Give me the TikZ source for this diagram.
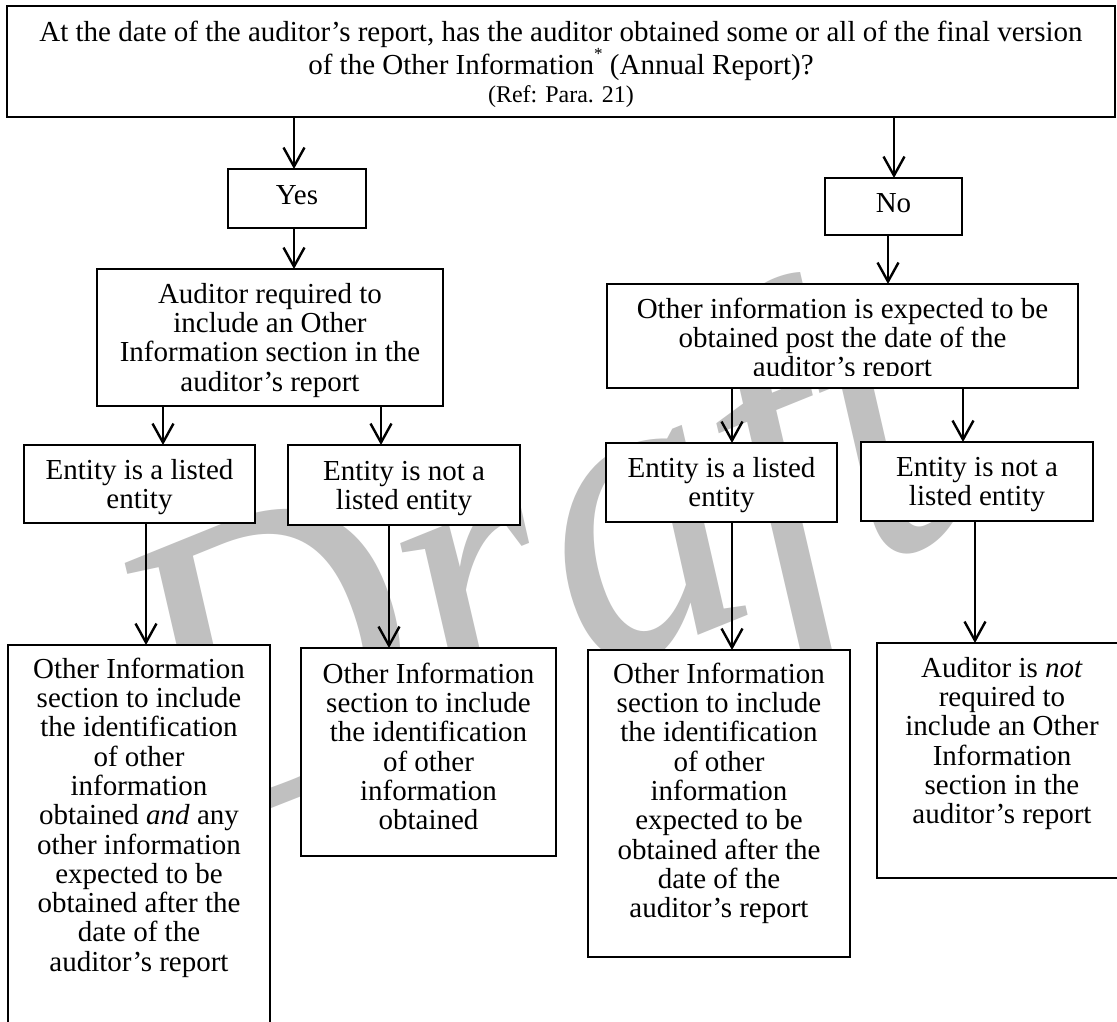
\documentclass[tikz,border=0pt]{standalone}
\usepackage{fontspec}
\usepackage{graphicx}
\setmainfont{Liberation Serif}
\usetikzlibrary{arrows.meta}
\definecolor{wmgray}{RGB}{192,192,192}
\newcommand{\fl}{\rule{0pt}{22pt}}
\tikzset{
  box/.style={draw=black, line width=2.2pt, fill=white, inner sep=0pt, outer sep=0pt},
  txt/.style={align=center, inner sep=0pt, anchor=north, font=\fontsize{29}{29.3}\selectfont},
  stxt/.style={inner sep=0pt, anchor=base, font=\fontsize{29}{29.3}\selectfont},
  arr/.style={line width=2.4pt, -{Straight Barb[length=19pt,width=21pt,line width=2.4pt]}},
  wm/.style={anchor=base west, rotate=22, text=wmgray, inner sep=0pt, font=\fontsize{430}{430}\selectfont\itshape}
}
\begin{document}
\begin{tikzpicture}[x=1pt,y=-1pt]
\useasboundingbox (0,0) rectangle (1117,1021);
\clip (0,0) rectangle (1117,1021);
\fill[white] (0,0) rectangle (1117,1021);
% watermark
\node[wm] (wm) at (193,840) {\scalebox{0.9}[1]{Draft}};
% boxes
\node[box, minimum width=1108pt, minimum height=111pt] (top) at (561,61.5) {};
\node[box, minimum width=138pt, minimum height=59pt] (yes) at (297,198.5) {};
\node[box, minimum width=137pt, minimum height=57pt] (no) at (893.5,206.5) {};
\node[box, minimum width=346pt, minimum height=137pt] (aud) at (270,337.5) {};
\node[box, minimum width=471pt, minimum height=104pt] (oth) at (842.5,336) {};
\node[box, minimum width=231pt, minimum height=78pt] (l1) at (139.5,484) {};
\node[box, minimum width=232pt, minimum height=80pt] (l2) at (404,485) {};
\node[box, minimum width=231pt, minimum height=79pt] (r1) at (721.5,482.5) {};
\node[box, minimum width=232pt, minimum height=79pt] (r2) at (977,481.5) {};
\node[box, minimum width=262pt, minimum height=395pt] (b1) at (139,842.5) {};
\node[box, minimum width=255pt, minimum height=208pt] (b2) at (428.5,752) {};
\node[box, minimum width=262pt, minimum height=307pt] (b3) at (719,803.5) {};
\node[box, minimum width=245pt, minimum height=235pt] (b4) at (999.5,760.5) {};
% texts
\node[txt, font=\fontsize{29}{28}\selectfont] (tq) at (561,19) {\fl At the date of the auditor’s report, has the auditor obtained some or all of the final version\\of the Other Information\raisebox{15pt}{\fontsize{17}{17}\selectfont *} (Annual Report)?};
\node[stxt, font=\fontsize{24}{24}\selectfont] (tref) at (561,102) {(Ref: Para. 21)};
\node[stxt] (tyes) at (297,204) {Yes};
\node[stxt] (tno) at (893.5,212) {No};
\node[txt] (taud) at (270,281) {\fl Auditor required to\\include an Other\\Information section in the\\auditor’s report};
\begin{scope}
\clip (607,284) rectangle (1078,375.5);
\node[txt] (toth) at (842.5,296) {\fl Other information is expected to be\\obtained post the date of the\\auditor’s report};
\end{scope}
\node[txt] (tl1) at (139.5,457) {\fl Entity is a listed\\entity};
\node[txt] (tl2) at (404,458) {\fl Entity is not a\\listed entity};
\node[txt] (tr1) at (721.5,455) {\fl Entity is a listed\\entity};
\node[txt] (tr2) at (977,454) {\fl Entity is not a\\listed entity};
\node[txt] (tb1) at (139,656) {\fl Other Information\\section to include\\the identification\\of other\\information\\obtained \textit{and} any\\other information\\expected to be\\obtained after the\\date of the\\auditor’s report};
\node[txt] (tb2) at (428.5,661) {\fl Other Information\\section to include\\the identification\\of other\\information\\obtained};
\node[txt] (tb3) at (719,661) {\fl Other Information\\section to include\\the identification\\of other\\information\\expected to be\\obtained after the\\date of the\\auditor’s report};
\node[txt] (tb4) at (1002,655) {\fl Auditor is \textit{not}\\required to\\include an Other\\Information\\section in the\\auditor’s report};
% arrow columns
\coordinate (xa) at (294,0);
\coordinate (xb) at (894,0);
\coordinate (xc) at (888,0);
\coordinate (xd) at (163,0);
\coordinate (xe) at (381,0);
\coordinate (xf) at (732,0);
\coordinate (xg) at (963,0);
\coordinate (xh) at (146,0);
\coordinate (xi) at (389,0);
\coordinate (xj) at (975,0);
% connectors
\draw[arr] (top.south -| xa) -- (yes.north -| xa);
\draw[arr] (top.south -| xb) -- (no.north -| xb);
\draw[arr] (yes.south -| xa) -- (aud.north -| xa);
\draw[arr] (no.south -| xc) -- (oth.north -| xc);
\draw[arr] (aud.south -| xd) -- (l1.north -| xd);
\draw[arr] (aud.south -| xe) -- (l2.north -| xe);
\draw[arr] (oth.south -| xf) -- (r1.north -| xf);
\draw[arr] (oth.south -| xg) -- (r2.north -| xg);
\draw[arr] (l1.south -| xh) -- (b1.north -| xh);
\draw[arr] (l2.south -| xi) -- (b2.north -| xi);
\draw[arr] (r1.south -| xf) -- (b3.north -| xf);
\draw[arr] (r2.south -| xj) -- (b4.north -| xj);
\end{tikzpicture}
\end{document}
